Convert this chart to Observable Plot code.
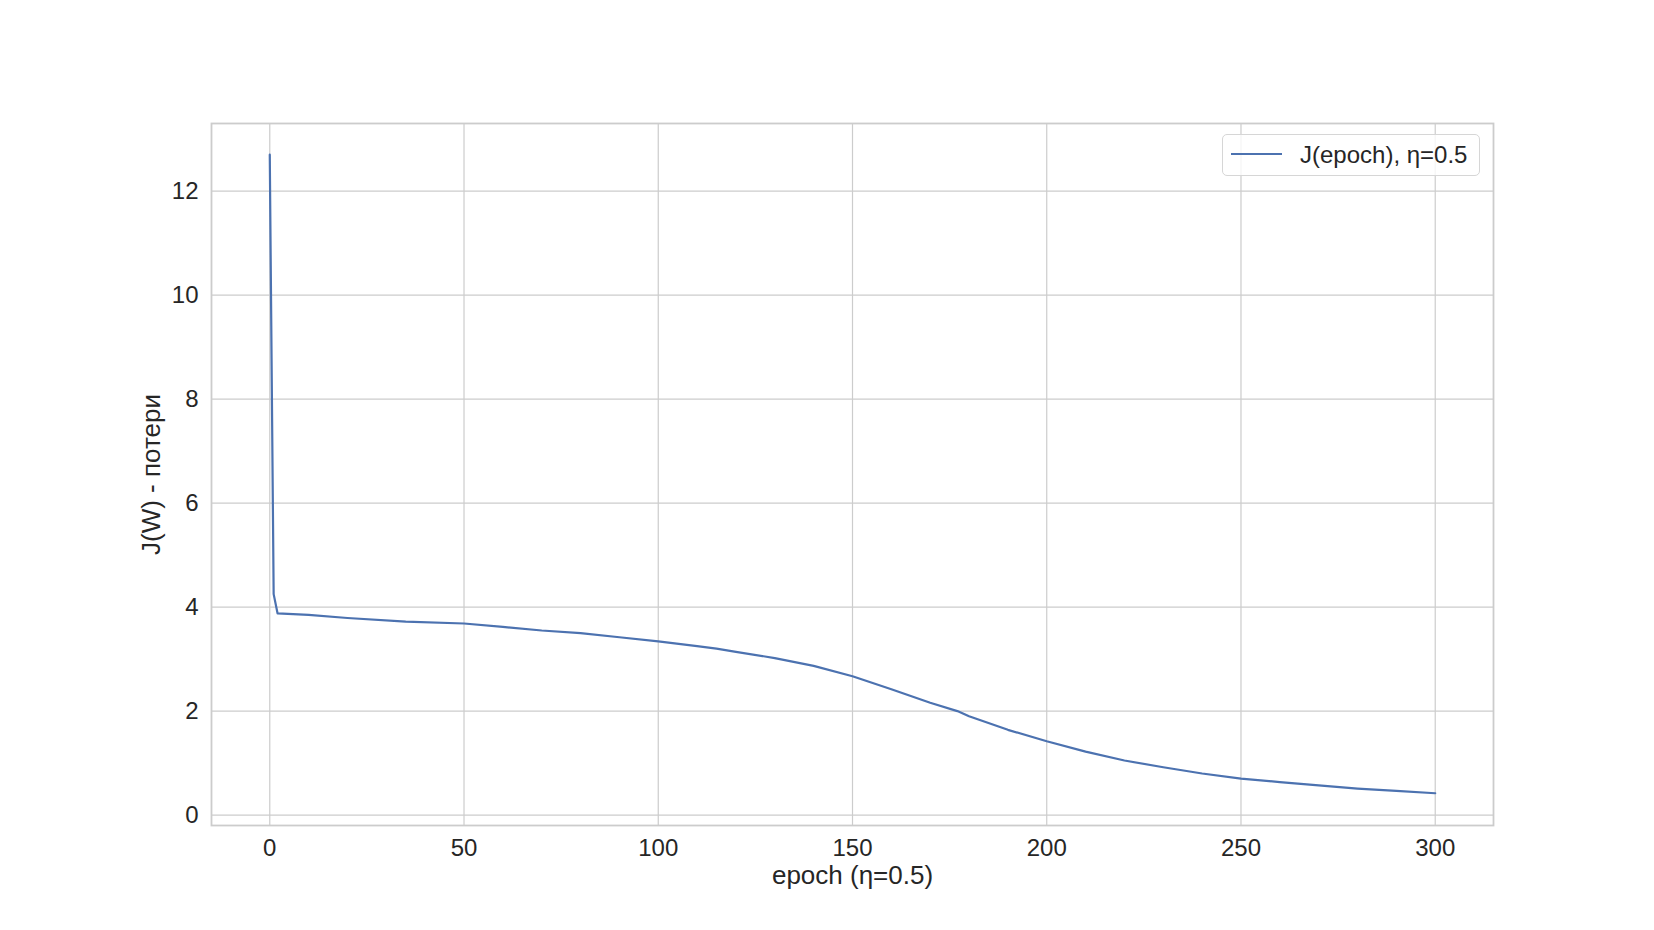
<!DOCTYPE html>
<html>
<head>
<meta charset="utf-8">
<script src="https://cdn.jsdelivr.net/npm/d3@7"></script>
<script src="https://cdn.jsdelivr.net/npm/@observablehq/plot@0.6"></script>
<style>
  html, body { margin: 0; padding: 0; background: #fff; }
  #wrap { position: relative; width: 1654px; height: 930px; font-family: "Liberation Sans", Arial, sans-serif; }
  #legend {
    position: absolute; left: 1222px; top: 134px; width: 258px; height: 42px;
    box-sizing: border-box; border: 1.3px solid #d6d6d6; border-radius: 5px;
    background: rgba(255,255,255,0.8);
  }
  #legend .swatch { position: absolute; left: 8px; top: 18px; width: 51px; height: 0; border-top: 2px solid #4c72b0; }
  #legend .lbl { position: absolute; left: 77px; top: 6px; font-size: 24px; line-height: 28px; color: #262626; white-space: nowrap; }
</style>
</head>
<body>
<div id="wrap"></div>
<script>
// Data
const epochs = [0, 1, 2, 10, 20, 35, 50, 60, 70, 80, 90, 100, 110, 115, 120, 130, 140, 150, 160, 170, 177, 180, 190, 200, 210, 220, 230, 240, 250, 260, 270, 280, 290, 300];
const losses = [12.7, 4.25, 3.88, 3.85, 3.79, 3.72, 3.685, 3.62, 3.55, 3.50, 3.42, 3.34, 3.25, 3.20, 3.14, 3.02, 2.87, 2.67, 2.42, 2.16, 2.00, 1.90, 1.64, 1.42, 1.22, 1.05, 0.92, 0.80, 0.70, 0.635, 0.57, 0.51, 0.465, 0.42];
const xTicks = [0, 50, 100, 150, 200, 250, 300];
const yTicks = [0, 2, 4, 6, 8, 10, 12];
const xLabel = "epoch (η=0.5)";
const yLabel = "J(W) - потери";
const seriesLabel = "J(epoch), η=0.5";

const data = epochs.map((e, i) => ({epoch: e, loss: losses[i]}));

const chart = Plot.plot({
  width: 1654,
  height: 930,
  marginLeft: 211,
  marginRight: 161,
  marginTop: 123,
  marginBottom: 105,
  style: {fontFamily: '"Liberation Sans", Arial, sans-serif', color: "#262626", background: "#fff"},
  x: {domain: [-15, 315]},
  y: {domain: [-0.2, 13.3]},
  marks: [
    Plot.gridX(xTicks, {stroke: "#cccccc", strokeOpacity: 1, strokeWidth: 1.2}),
    Plot.gridY(yTicks, {stroke: "#cccccc", strokeOpacity: 1, strokeWidth: 1.2}),
    Plot.frame({stroke: "#cccccc", strokeWidth: 1.8}),
    Plot.axisX(xTicks, {tickSize: 0, tickPadding: 13, fontSize: 24, label: null, fill: "#262626", tickFormat: d3.format("d")}),
    Plot.axisY(yTicks, {tickSize: 0, tickPadding: 13, fontSize: 24, label: null, fill: "#262626", tickFormat: d3.format("d")}),
    Plot.line(data, {x: "epoch", y: "loss", stroke: "#4c72b0", strokeWidth: 2.2}),
    Plot.text([xLabel], {frameAnchor: "bottom", dy: 58, lineAnchor: "bottom", fontSize: 26, fill: "#262626", text: d => d}),
    Plot.text([yLabel], {frameAnchor: "left", dx: -52, rotate: -90, lineAnchor: "bottom", textAnchor: "middle", fontSize: 26, fill: "#262626", text: d => d})
  ]
});

const wrap = document.getElementById("wrap");
wrap.appendChild(chart);
const legend = document.createElement("div");
legend.id = "legend";
legend.innerHTML = `<div class="swatch"></div><div class="lbl">${seriesLabel}</div>`;
wrap.appendChild(legend);
</script>
</body>
</html>
